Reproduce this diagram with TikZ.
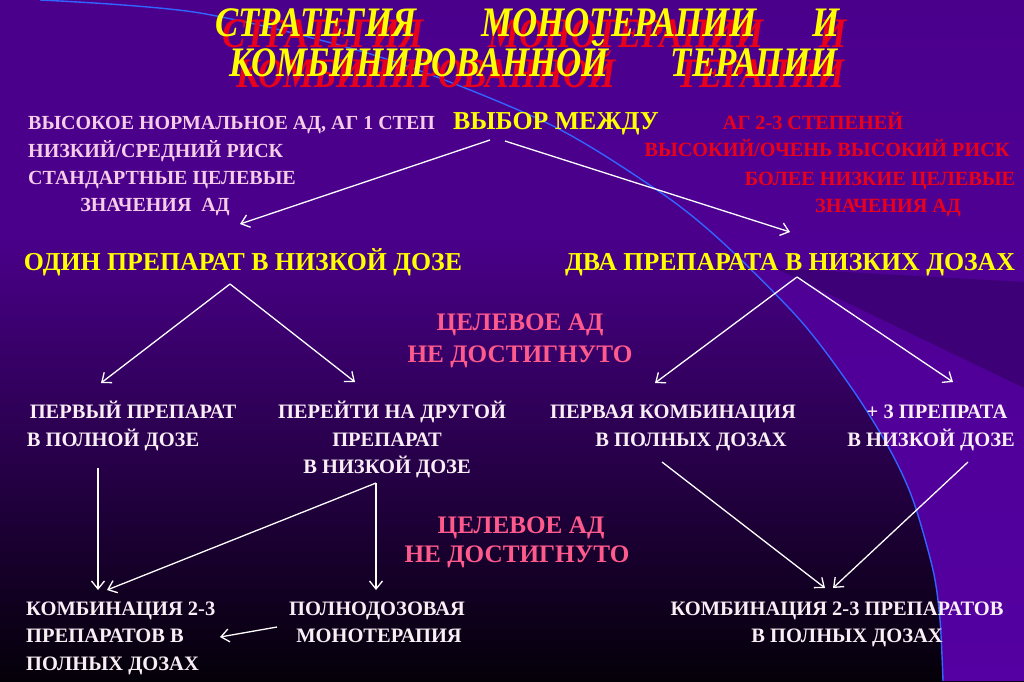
\documentclass[tikz,border=0pt]{standalone}
\usepackage{fontspec}
\usepackage{graphicx}
\setmainfont{Liberation Serif}
\usetikzlibrary{arrows.meta}
\definecolor{bgtop}{RGB}{75,0,140}
\definecolor{bgbot}{RGB}{4,0,8}
\definecolor{rightbg}{RGB}{84,0,162}
\definecolor{wedge}{RGB}{56,0,108}
\definecolor{curveblue}{RGB}{50,100,255}
\definecolor{pinkwhite}{RGB}{245,205,230}
\definecolor{txtwhite}{RGB}{250,238,245}
\definecolor{redtxt}{RGB}{235,0,25}
\definecolor{hotpink}{RGB}{255,90,140}
\definecolor{yell}{RGB}{255,255,0}
\definecolor{shadowred}{RGB}{232,0,28}
\newcommand\TitleWord[4]{%
  \node[ttl, text=shadowred] (#1s) at (#2+7,#3+11) {\scalebox{0.83}[1]{#4}};
  \node[ttl, text=yell] (#1) at (#2,#3) {\scalebox{0.83}[1]{#4}};}
\begin{document}
\begin{tikzpicture}[x=1pt,y=-1pt,
 txt/.style={inner sep=0pt, text height=13.5pt, text depth=0pt, font=\bfseries\fontsize{20.5}{21}\selectfont},
 lft/.style={txt, text=pinkwhite, font=\bfseries\fontsize{20}{21}\selectfont},
 rgt/.style={txt, text=redtxt, font=\bfseries\fontsize{20.2}{21}\selectfont},
 yel/.style={txt, text=yell, text height=17pt, font=\bfseries\fontsize{25.8}{26}\selectfont},
 hot/.style={txt, text=hotpink, text height=16.5pt, font=\bfseries\fontsize{25.2}{26}\selectfont},
 wht/.style={txt, text=txtwhite},
 ttl/.style={inner sep=0pt, text height=28pt, text depth=0pt, font=\bfseries\itshape\fontsize{42}{42}\selectfont},
 arr/.style={draw=white, line width=1.3pt, -{Straight Barb[length=8pt,width=13pt]}}
]
\useasboundingbox (0,0) rectangle (1024,681);
% background
\fill[bgtop] (0,0) rectangle (1024,681);
\shade[top color=bgtop, bottom color=bgbot] (0,230) rectangle (1024,681);
\def\curvepts{(40,0) (200,13) (380,57) (547,123) (657,190) (720,240) (800,320) (853,390) (890,450) (913,500) (933,570) (940,620) (943,681)}
\begin{scope}
\clip plot[smooth] coordinates {\curvepts} -- (1024,681) -- (1024,0) -- cycle;
\shade[top color=bgtop, bottom color=rightbg] (0,0) rectangle (1024,681);
\fill[wedge, opacity=0.75] (775,268) -- (1024,282) -- (1024,388) -- cycle;
\end{scope}
\draw[curveblue, line width=1.4pt] plot[smooth] coordinates {\curvepts};

% title
\TitleWord{t1a}{316}{22}{СТРАТЕГИЯ}
\TitleWord{t1b}{619}{22}{МОНОТЕРАПИИ}
\TitleWord{t1c}{826}{22}{И}
\TitleWord{t2a}{419}{62}{КОМБИНИРОВАННОЙ}
\TitleWord{t2b}{754}{62}{ТЕРАПИИ}

% top texts
\node[lft, anchor=west] (L1) at (28,123) {ВЫСОКОЕ НОРМАЛЬНОЕ АД, АГ 1 СТЕП};
\node[lft, anchor=west] (L2) at (28,151) {НИЗКИЙ/СРЕДНИЙ РИСК};
\node[lft, anchor=west] (L3) at (28,178) {СТАНДАРТНЫЕ ЦЕЛЕВЫЕ};
\node[lft] (L4) at (155,205) {ЗНАЧЕНИЯ\ \ АД};
\node[yel] (vybor) at (556,121) {ВЫБОР МЕЖДУ};
\node[rgt] (R1) at (813,123) {АГ 2-3 СТЕПЕНЕЙ};
\node[rgt] (R2) at (827,150) {ВЫСОКИЙ/ОЧЕНЬ ВЫСОКИЙ РИСК};
\node[rgt] (R3) at (880,179) {БОЛЕЕ НИЗКИЕ ЦЕЛЕВЫЕ};
\node[rgt] (R4) at (888,206) {ЗНАЧЕНИЯ АД};

\node[yel] (odin) at (243,262) {ОДИН ПРЕПАРАТ В НИЗКОЙ ДОЗЕ};
\node[yel] (dva) at (790,262) {ДВА ПРЕПАРАТА В НИЗКИХ ДОЗАХ};

\node[hot] (c1a) at (520,322) {ЦЕЛЕВОЕ АД};
\node[hot] (c1b) at (520,354) {НЕ ДОСТИГНУТО};

\node[wht] (p1a) at (133,412) {ПЕРВЫЙ ПРЕПАРАТ};
\node[wht] (p1b) at (113,440) {В ПОЛНОЙ ДОЗЕ};
\node[wht] (p2a) at (392,412) {ПЕРЕЙТИ НА ДРУГОЙ};
\node[wht] (p2b) at (387,440) {ПРЕПАРАТ};
\node[wht] (p2c) at (387,467) {В НИЗКОЙ ДОЗЕ};
\node[wht] (p3a) at (673,412) {ПЕРВАЯ КОМБИНАЦИЯ};
\node[wht] (p3b) at (691,440) {В ПОЛНЫХ ДОЗАХ};
\node[wht] (p4a) at (937,412) {+ 3 ПРЕПРАТА};
\node[wht] (p4b) at (931,440) {В НИЗКОЙ ДОЗЕ};

\node[hot] (c2a) at (521,525) {ЦЕЛЕВОЕ АД};
\node[hot] (c2b) at (517,554) {НЕ ДОСТИГНУТО};

\node[wht, anchor=west] (b1a) at (26,609) {КОМБИНАЦИЯ 2-3};
\node[wht, anchor=west] (b1b) at (26,636) {ПРЕПАРАТОВ В};
\node[wht, anchor=west] (b1c) at (26,664) {ПОЛНЫХ ДОЗАХ};
\node[wht] (b2a) at (377,609) {ПОЛНОДОЗОВАЯ};
\node[wht] (b2b) at (379,636) {МОНОТЕРАПИЯ};
\node[wht] (b3a) at (837,609) {КОМБИНАЦИЯ 2-3 ПРЕПАРАТОВ};
\node[wht] (b3b) at (847,636) {В ПОЛНЫХ ДОЗАХ};

% arrows
\draw[arr] ([shift={(-66,19)}]vybor.center) -- ([shift={(-3,-38)}]odin.center);
\draw[arr] ([shift={(-51,20)}]vybor.center) -- ([shift={(0,-30)}]dva.center);
\draw[arr] ([shift={(-13,22)}]odin.center) -- ([shift={(-32,-29)}]p1a.center);
\draw[arr] ([shift={(-13,22)}]odin.center) -- ([shift={(-37,-30)}]p2a.center);
\draw[arr] ([shift={(7,15)}]dva.center) -- ([shift={(-18,-29)}]p3a.center);
\draw[arr] ([shift={(7,15)}]dva.center) -- ([shift={(16,-30)}]p4a.center);
\draw[arr] ([shift={(-15,28)}]p1b.center) -- ([shift={(72,-19)}]b1a.west);
\draw[arr] ([shift={(-11,16)}]p2c.center) -- ([shift={(81,-19)}]b1a.west);
\draw[arr] ([shift={(-11,16)}]p2c.center) -- ([shift={(-1,-19)}]b2a.center);
\draw[arr] ([shift={(-102,-9)}]b2b.center) -- ([shift={(194,-27)}]b1c.west);
\draw[arr] ([shift={(-29,22)}]p3b.center) -- ([shift={(-12,-21)}]b3a.center);
\draw[arr] ([shift={(37,22)}]p4b.center) -- ([shift={(-4,-21)}]b3a.center);
\end{tikzpicture}
\end{document}
